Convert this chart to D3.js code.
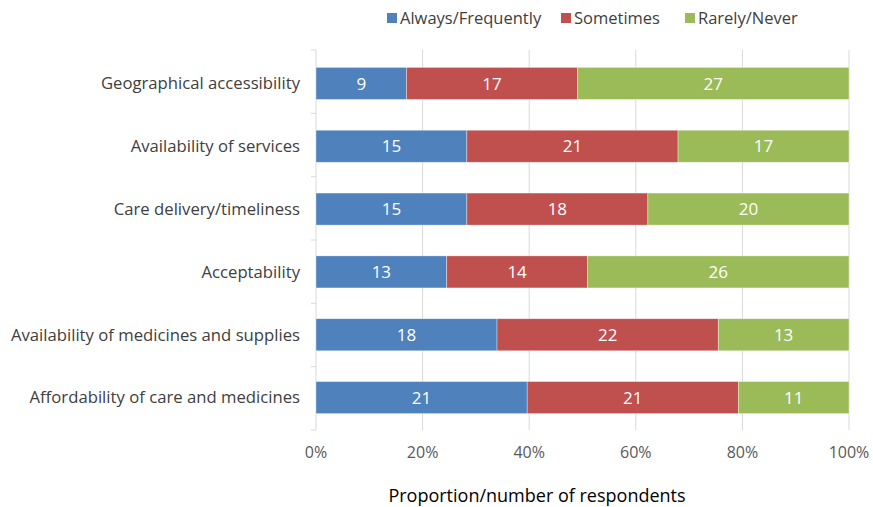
<!DOCTYPE html>
<html>
<head>
<meta charset="utf-8">
<script src="https://cdn.jsdelivr.net/npm/d3@7"></script>
<style>
  body { margin: 0; background: #fff; }
  svg text { font-family: "Open Sans", Lato, sans-serif; }
</style>
</head>
<body>
<div id="chart"></div>
<script>
// categories, top to bottom
const categories = [
    'Geographical accessibility',
    'Availability of services',
    'Care delivery/timeliness',
    'Acceptability',
    'Availability of medicines and supplies',
    'Affordability of care and medicines'
];
const seriesNames = ['Always/Frequently', 'Sometimes', 'Rarely/Never'];
const alwaysFreq = [9, 15, 15, 13, 18, 21];
const sometimes = [17, 21, 18, 14, 22, 21];
const rarelyNever = [27, 17, 20, 26, 13, 11];
const tickLabels = ['0%', '20%', '40%', '60%', '80%', '100%'];
const colors = ['#4f81bd', '#c0504d', '#9bbb59'];

const width = 873, height = 507;
const margin = { top: 52, right: 24, bottom: 77, left: 316 };

const svg = d3.select('#chart').append('svg')
    .attr('width', width)
    .attr('height', height);

// build rows of proportions
const rows = categories.map((c, i) => ({
    category: c,
    'Always/Frequently': alwaysFreq[i],
    'Sometimes': sometimes[i],
    'Rarely/Never': rarelyNever[i]
}));

const stack = d3.stack().keys(seriesNames).offset(d3.stackOffsetExpand);
const stacked = stack(rows);

const x = d3.scaleLinear().domain([0, 1]).range([margin.left, width - margin.right]);
const y = d3.scaleBand().domain(categories)
    .range([margin.top, height - margin.bottom - 1])
    .paddingInner(0.49).paddingOuter(0.245);

// gridlines
svg.append('g')
    .selectAll('line')
    .data(d3.range(1, 6).map(d => d / 5))
    .enter().append('line')
    .attr('x1', d => x(d)).attr('x2', d => x(d))
    .attr('y1', margin.top - 2).attr('y2', height - margin.bottom)
    .attr('stroke', '#d9d9d9').attr('stroke-width', 1);

// left axis line with category ticks
const yTop = margin.top - 2, yBot = height - margin.bottom;
svg.append('line')
    .attr('x1', x(0)).attr('x2', x(0))
    .attr('y1', yTop).attr('y2', yBot)
    .attr('stroke', '#d9d9d9');
const step = (yBot - yTop) / categories.length;
svg.append('g').selectAll('line')
    .data(d3.range(categories.length + 1))
    .enter().append('line')
    .attr('x1', x(0) - 5).attr('x2', x(0))
    .attr('y1', d => yTop + d * step).attr('y2', d => yTop + d * step)
    .attr('stroke', '#d9d9d9');

// bars
const layer = svg.append('g').selectAll('g')
    .data(stacked)
    .enter().append('g')
    .attr('fill', (d, i) => colors[i]);

layer.selectAll('rect')
    .data(d => d.map(s => ({ s, key: d.key })))
    .enter().append('rect')
    .attr('x', d => x(d.s[0]))
    .attr('width', d => x(d.s[1]) - x(d.s[0]))
    .attr('y', d => y(d.s.data.category))
    .attr('height', y.bandwidth())
    .attr('stroke', 'rgba(255,255,255,0.5)')
    .attr('stroke-width', 0.7);

layer.selectAll('text')
    .data(d => d.map(s => ({ s, key: d.key })))
    .enter().append('text')
    .attr('x', d => (x(d.s[0]) + x(d.s[1])) / 2)
    .attr('y', d => y(d.s.data.category) + y.bandwidth() / 2)
    .attr('dy', '0.36em')
    .attr('text-anchor', 'middle')
    .attr('fill', '#fff')
    .attr('font-size', 17)
    .text(d => d.s.data[d.key]);

// category labels
svg.append('g').selectAll('text')
    .data(categories)
    .enter().append('text')
    .attr('x', x(0) - 16)
    .attr('y', d => y(d) + y.bandwidth() / 2)
    .attr('dy', '0.35em')
    .attr('text-anchor', 'end')
    .attr('fill', '#404040')
    .attr('font-size', 16.7)
    .text(d => d);

// x tick labels
svg.append('g').selectAll('text')
    .data(tickLabels)
    .enter().append('text')
    .attr('x', (d, i) => x(i / 5))
    .attr('y', 452)
    .attr('dy', '0.35em')
    .attr('text-anchor', 'middle')
    .attr('fill', '#595959')
    .attr('font-size', 16)
    .text(d => d);

// axis title
svg.append('text')
    .attr('x', 537)
    .attr('y', 496)
    .attr('dy', '0.35em')
    .attr('text-anchor', 'middle')
    .attr('fill', '#000')
    .attr('font-size', 18)
    .text('Proportion/number of respondents');

// legend
const legendX = [387, 561, 685];
const legend = svg.append('g').selectAll('g')
    .data(seriesNames)
    .enter().append('g')
    .attr('transform', (d, i) => `translate(${legendX[i]},18)`);
legend.append('rect')
    .attr('x', 0).attr('y', -5)
    .attr('width', 10).attr('height', 10)
    .attr('fill', (d, i) => colors[i]);
legend.append('text')
    .attr('x', 13)
    .attr('dy', '0.35em')
    .attr('fill', '#404040')
    .attr('font-size', 16.5)
    .text(d => d);
</script>
</body>
</html>
